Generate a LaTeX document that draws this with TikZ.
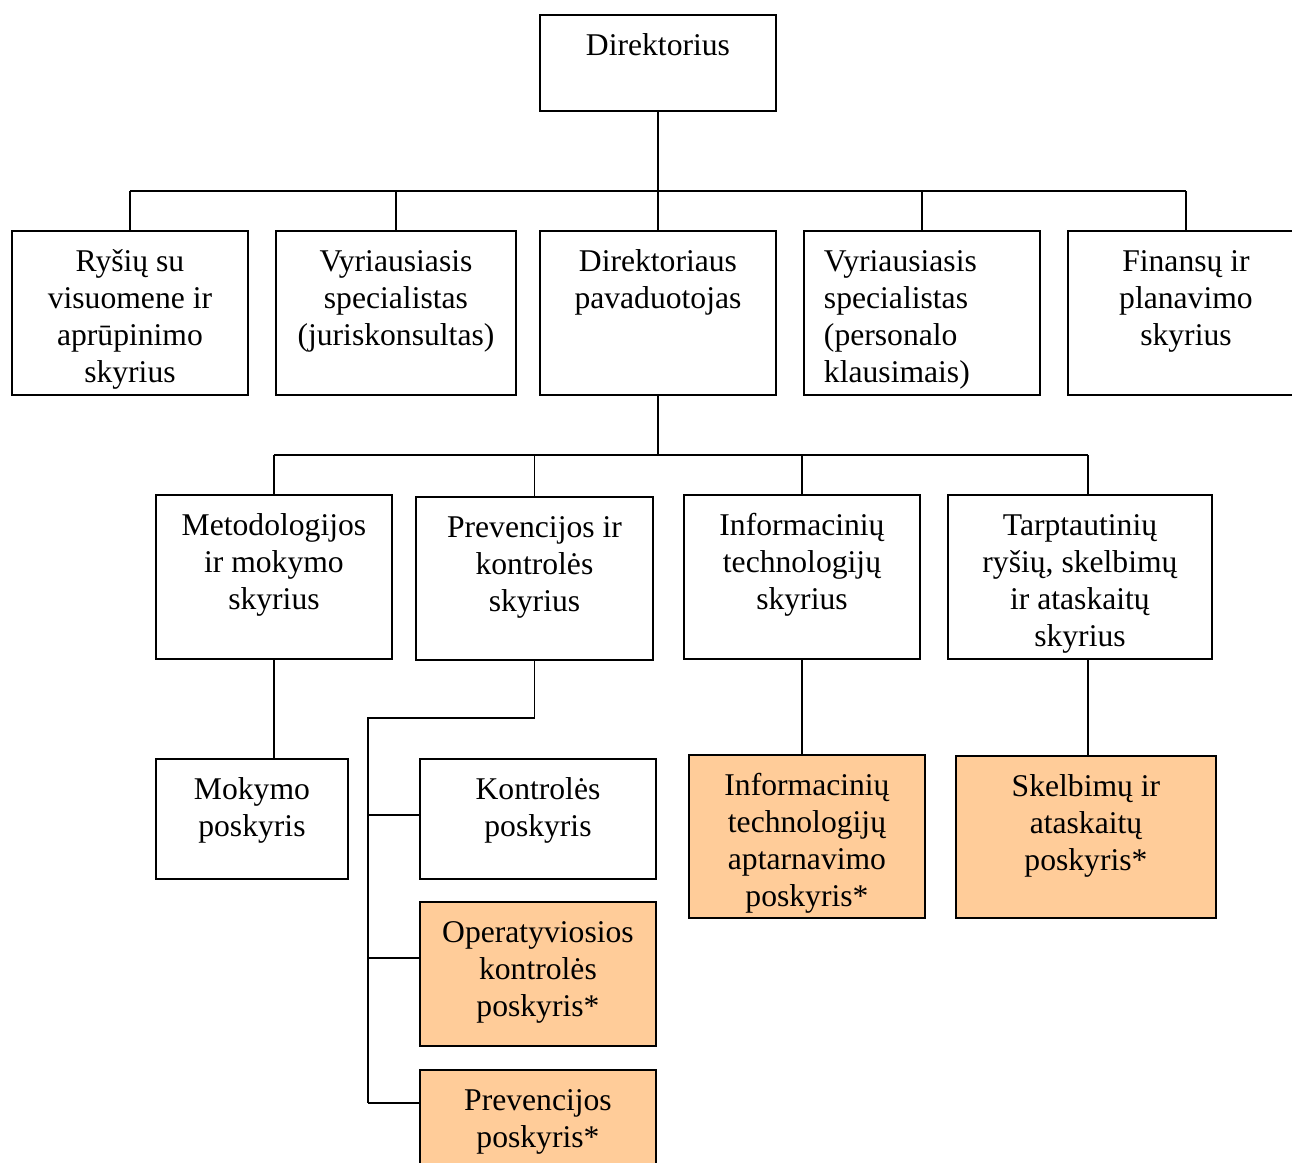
\documentclass[tikz,border=0pt]{standalone}
\usepackage{fontspec}
\setmainfont{Liberation Serif}
\usepackage{tikz}
\usetikzlibrary{
  positioning,
  calc
}
\definecolor{orgLine}{HTML}{000000}
\definecolor{orgSub}{HTML}{FFCC99}
% box text: width, height, lines (top aligned)
\newcommand{\unittext}[3]{\parbox[c][#2][t]{#1}{\centering\rule{0pt}{0.82cm}#3}}
\newcommand{\unittextl}[3]{\parbox[c][#2][t]{#1}{\raggedright\leftskip=0.4cm\rule{0pt}{0.82cm}#3}}
\tikzset{
  unit/.style={draw=orgLine, line width=1.1pt, inner sep=0pt, anchor=north west,
    font=\fontsize{18}{20.9}\selectfont},
  subunit/.style={unit, fill=orgSub},
  link/.style={draw=orgLine, line width=1.1pt}
}

\begin{document}
\begin{tikzpicture}
  \useasboundingbox (0,0) rectangle (25.84,-23.24);
  % top
  \node[unit] (dir) at (10.78,-0.28) {\unittext{4.72cm}{1.92cm}{Direktorius}};
  % first row
  \node[unit] (rys) at (0.22,-4.6) {\unittext{4.72cm}{3.28cm}{Ryšių su\\visuomene ir\\aprūpinimo\\skyrius}};
  \node[unit] (jur) at (5.5,-4.6) {\unittext{4.8cm}{3.28cm}{Vyriausiasis\\specialistas\\(juriskonsultas)}};
  \node[unit] (pav) at (10.78,-4.6) {\unittext{4.72cm}{3.28cm}{Direktoriaus\\pavaduotojas}};
  \node[unit] (per) at (16.06,-4.6) {\unittextl{4.72cm}{3.28cm}{Vyriausiasis\\specialistas\\(personalo\\klausimais)}};
  \node[unit] (fin) at (21.34,-4.6) {\unittext{4.72cm}{3.28cm}{Finansų ir\\planavimo\\skyrius}};
  % second row
  \node[unit] (met) at (3.1,-9.88) {\unittext{4.72cm}{3.28cm}{Metodologijos\\ir mokymo\\skyrius}};
  \node[unit] (prk) at (8.3,-9.92) {\unittext{4.74cm}{3.26cm}{Prevencijos ir\\kontrolės\\skyrius}};
  \node[unit] (inf) at (13.66,-9.88) {\unittext{4.72cm}{3.28cm}{Informacinių\\technologijų\\skyrius}};
  \node[unit] (tar) at (18.94,-9.88) {\unittext{5.28cm}{3.28cm}{Tarptautinių\\ryšių, skelbimų\\ir ataskaitų\\skyrius}};
  % third row
  \node[unit] (mok) at (3.1,-15.16) {\unittext{3.84cm}{2.4cm}{Mokymo\\poskyris}};
  \node[unit] (kon) at (8.38,-15.16) {\unittext{4.72cm}{2.4cm}{Kontrolės\\poskyris}};
  \node[subunit] (opk) at (8.38,-18.02) {\unittext{4.72cm}{2.88cm}{Operatyviosios\\kontrolės\\poskyris*}};
  \node[subunit] (prv) at (8.38,-21.38) {\unittext{4.72cm}{2.4cm}{Prevencijos\\poskyris*}};
  \node[subunit] (ita) at (13.76,-15.08) {\unittext{4.72cm}{3.26cm}{Informacinių\\technologijų\\aptarnavimo\\poskyris*}};
  \node[subunit] (ska) at (19.1,-15.1) {\unittext{5.2cm}{3.24cm}{Skelbimų ir\\ataskaitų\\poskyris*}};
  % bus lines
  \coordinate (busA) at (0,-3.82);
  \coordinate (busB) at (0,-9.1);
  \coordinate (trunk) at (7.36,-14.36);
  \coordinate (tarTop) at ([xshift=0.16cm]tar.north);
  \coordinate (tarBot) at ([xshift=0.16cm]tar.south);
  \coordinate (konTap) at ([yshift=-1.14cm]kon.north west);
  \coordinate (opkTap) at ([yshift=-1.14cm]opk.north west);
  \coordinate (prvTap) at ([yshift=-0.68cm]prv.north west);
  % director level
  \draw[link] (dir.south) -- (dir.south |- busA);
  \draw[link] (rys.north |- busA) -- (fin.north |- busA);
  \foreach \u in {rys,jur,pav,per,fin}
    \draw[link] (\u.north) -- (\u.north |- busA);
  % deputy level
  \draw[link] (pav.south) -- (pav.south |- busB);
  \draw[link] (met.north |- busB) -- (tarTop |- busB);
  \foreach \u in {met,prk,inf}
    \draw[link] (\u.north) -- (\u.north |- busB);
  \draw[link] (tarTop) -- (tarTop |- busB);
  % sub units
  \draw[link] (met.south) -- (met.south |- mok.north);
  \draw[link] (inf.south) -- (inf.south |- ita.north);
  \draw[link] (tarBot) -- (tarBot |- ska.north);
  \draw[link] (prk.south) -- (prk.south |- trunk) -- (trunk) -- (trunk |- prvTap);
  \foreach \t in {konTap,opkTap,prvTap}
    \draw[link] (trunk |- \t) -- (\t);
\end{tikzpicture}
\end{document}
